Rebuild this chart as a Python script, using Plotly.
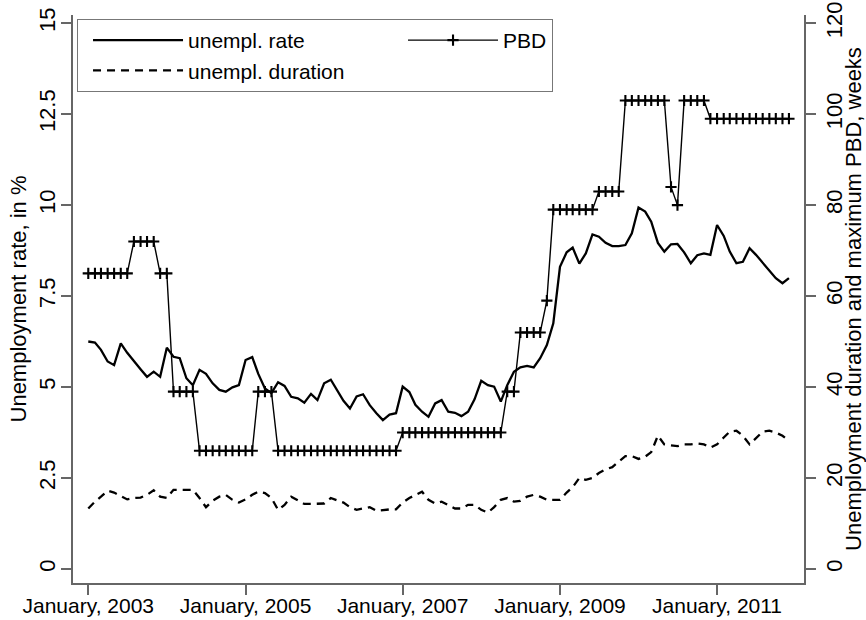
import pandas as pd
import plotly.graph_objects as go

# ---------------- data (monthly, Jan 2003 - Dec 2011) ----------------
months = pd.date_range("2003-01-01", periods=108, freq="MS")

unemp_rate = [
    6.25, 6.22, 6.02, 5.70, 5.60, 6.20, 5.94, 5.70, 5.49, 5.28, 5.42, 5.28,
    6.08, 5.83, 5.79, 5.24, 5.05, 5.47, 5.36, 5.10, 4.92, 4.87, 4.99, 5.05,
    5.74, 5.82, 5.36, 4.96, 4.83, 5.13, 5.03, 4.73, 4.69, 4.57, 4.81, 4.64,
    5.10, 5.20, 4.91, 4.62, 4.41, 4.74, 4.80, 4.50, 4.28, 4.09, 4.24, 4.28,
    5.01, 4.86, 4.51, 4.32, 4.18, 4.55, 4.64, 4.32, 4.29, 4.20, 4.32, 4.66,
    5.17, 5.05, 5.01, 4.60, 5.05, 5.42, 5.54, 5.58, 5.54, 5.79, 6.15, 6.75,
    8.30, 8.70, 8.83, 8.39, 8.67, 9.19, 9.13, 8.96, 8.87, 8.87, 8.90, 9.22,
    9.93, 9.82, 9.54, 8.96, 8.72, 8.92, 8.93, 8.70, 8.40, 8.62, 8.67, 8.63,
    9.45, 9.15, 8.72, 8.40, 8.44, 8.81, 8.63, 8.42, 8.20, 7.99, 7.85, 7.99,
]

unemp_duration = [
    13.3, 14.8, 15.9, 17.2, 16.8, 16.1, 15.3, 15.6, 15.7, 16.3, 17.3, 15.9,
    15.6, 17.4, 17.4, 17.3, 17.4, 15.6, 13.6, 15.0, 15.9, 16.3, 15.2, 14.6,
    15.3, 16.3, 17.0, 16.7, 15.6, 13.0, 14.1, 15.9, 15.0, 14.3, 14.3, 14.3,
    14.4, 15.6, 15.2, 14.6, 13.6, 13.0, 13.3, 13.6, 12.8, 13.0, 13.1, 13.1,
    14.6, 15.6, 16.3, 17.0, 15.2, 14.4, 14.8, 14.1, 13.3, 13.3, 14.1, 14.1,
    13.0, 12.4, 13.6, 15.2, 15.6, 14.8, 15.0, 15.9, 16.3, 15.9, 15.2, 15.2,
    15.2, 16.8, 18.0, 20.0, 19.6, 20.0, 21.1, 21.9, 22.4, 23.6, 24.8, 24.8,
    24.2, 24.7, 25.7, 29.3, 27.4, 27.2, 27.0, 27.4, 27.4, 27.6, 27.4, 26.7,
    27.4, 28.9, 30.2, 30.4, 29.3, 27.4, 28.7, 30.2, 30.4, 30.0, 29.3, 28.2,
]

pbd_weeks = [
    65, 65, 65, 65, 65, 65, 65, 72, 72, 72, 72, 65,
    65, 39, 39, 39, 39, 26, 26, 26, 26, 26, 26, 26,
    26, 26, 39, 39, 39, 26, 26, 26, 26, 26, 26, 26,
    26, 26, 26, 26, 26, 26, 26, 26, 26, 26, 26, 26,
    30, 30, 30, 30, 30, 30, 30, 30, 30, 30, 30, 30,
    30, 30, 30, 30, 39, 39, 52, 52, 52, 52, 59, 79,
    79, 79, 79, 79, 79, 79, 83, 83, 83, 83, 103, 103,
    103, 103, 103, 103, 103, 84, 80, 103, 103, 103, 103, 99,
    99, 99, 99, 99, 99, 99, 99, 99, 99, 99, 99, 99,
]

x_tick_dates = ["2003-01-01", "2005-01-01", "2007-01-01", "2009-01-01", "2011-01-01"]
x_tick_labels = ["January, 2003", "January, 2005", "January, 2007",
                 "January, 2009", "January, 2011"]
left_ticks = [0, 2.5, 5, 7.5, 10, 12.5, 15]
left_tick_labels = ["0", "2.5", "5", "7.5", "10", "12.5", "15"]
left_grid = [2.5, 5, 7.5, 10, 12.5]
right_ticks = [0, 20, 40, 60, 80, 100, 120]
right_tick_labels = ["0", "20", "40", "60", "80", "100", "120"]

# ---------------- styling ----------------
FONT = "Liberation Sans, Arial, Helvetica, sans-serif"
AXIS_COLOR = "#666666"
GRID_COLOR = "#E6EFF0"

fig = go.Figure()
fig.add_trace(go.Scatter(
    x=months, y=unemp_rate, name="unempl. rate", mode="lines",
    line=dict(color="black", width=2.3), legendwidth=200,
))
fig.add_trace(go.Scatter(
    x=months, y=pbd_weeks, name="PBD", mode="lines+markers", yaxis="y2",
    line=dict(color="black", width=1.4),
    marker=dict(symbol="cross-thin", size=8, color="black",
                line=dict(width=2.1, color="black")),
))
fig.add_trace(go.Scatter(
    x=months, y=unemp_duration, name="unempl. duration", mode="lines",
    yaxis="y2", line=dict(color="black", width=2.3, dash="8px,6px"),
    legendwidth=200,
))

axis_common = dict(
    ticks="outside", ticklen=10, tickwidth=1.5, tickcolor=AXIS_COLOR,
    showline=True, linecolor=AXIS_COLOR, linewidth=1.5,
    zeroline=False, showgrid=False,
)

fig.update_layout(
    width=866, height=620,
    margin=dict(l=73, r=62, t=15, b=37, autoexpand=False),
    paper_bgcolor="white", plot_bgcolor="white",
    font=dict(family=FONT, size=22, color="black"),
    showlegend=True,
    legend=dict(
        orientation="h", x=0.0055, y=0.993, xanchor="left", yanchor="top",
        bordercolor="#777777", borderwidth=1, bgcolor="white",
        itemwidth=90, indentation=10, font=dict(size=21),
        traceorder="normal",
    ),
    xaxis=dict(
        type="date", range=["2002-10-22", "2012-02-09"],
        tickvals=x_tick_dates, ticktext=x_tick_labels,
        tickfont=dict(size=21), ticklabelstandoff=-7, **axis_common,
    ),
    yaxis=dict(
        range=[-0.385, 15.22], tickvals=left_ticks, ticktext=left_tick_labels,
        tickangle=-90, tickfont=dict(size=22), ticklabelstandoff=-3,
        title=dict(text="Unemployment rate, in %", font=dict(size=22), standoff=3),
        **axis_common,
    ),
    yaxis2=dict(
        overlaying="y", side="right", anchor="x",
        range=[-3.08, 121.8], tickvals=right_ticks, ticktext=right_tick_labels,
        tickangle=-90, tickfont=dict(size=22),
        title=dict(text="Unemployment duration and maximum PBD, weeks",
                   font=dict(size=22), standoff=3),
        **axis_common,
    ),
    yaxis3=dict(
        overlaying="y", anchor="x", range=[-0.385, 15.22],
        tickvals=left_grid, showticklabels=False, ticks="",
        showgrid=True, gridcolor=GRID_COLOR, gridwidth=1.2,
        showline=False, zeroline=False,
    ),
)

fig.write_html("out.html")
